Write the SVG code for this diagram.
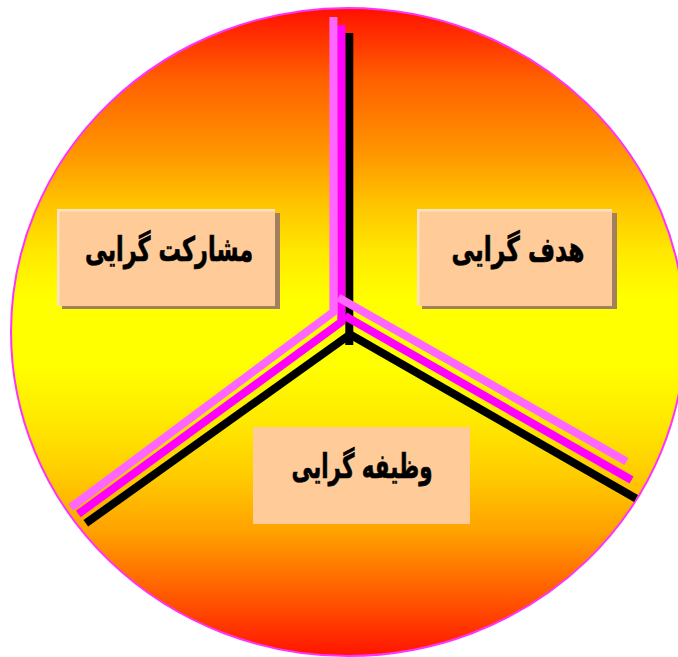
<svg xmlns="http://www.w3.org/2000/svg" width="678" height="657" viewBox="0 0 678 657">
  <defs>
    <linearGradient id="bg" x1="0" y1="0" x2="0" y2="1">
      <stop offset="0" stop-color="#FF1000"/>
      <stop offset="0.11" stop-color="#FF6000"/>
      <stop offset="0.22" stop-color="#FF9400"/>
      <stop offset="0.30" stop-color="#FFC200"/>
      <stop offset="0.38" stop-color="#FFEA00"/>
      <stop offset="0.45" stop-color="#FFFF00"/>
      <stop offset="0.55" stop-color="#FFFF00"/>
      <stop offset="0.64" stop-color="#FFE800"/>
      <stop offset="0.72" stop-color="#FFCC00"/>
      <stop offset="0.81" stop-color="#FFA000"/>
      <stop offset="0.87" stop-color="#FF7400"/>
      <stop offset="0.92" stop-color="#FF5000"/>
      <stop offset="1" stop-color="#FF1400"/>
    </linearGradient>
  </defs>
  <style>
    .shadow { fill: #A2805E; }
    .light { fill: #FFE2C2; }
    .box { fill: #FFCC99; }
    .label { font-family: "DejaVu Sans", "Noto Sans", sans-serif; font-weight: bold; font-size: 34px; fill: #000; stroke: #000; stroke-width: 0.7; text-anchor: middle; }
    .ln { fill: none; stroke-width: 8; stroke-linecap: butt; stroke-linejoin: miter; }
    .blk { stroke: #000000; }
    .mag { stroke: #FF00FF; }
    .pnk { stroke: #FF66FF; }
  </style>

  <ellipse id="disc" cx="348" cy="332" rx="337" ry="324" fill="url(#bg)" stroke="#FF33FF" stroke-width="2"/>

  <g id="connectors">
    <line class="ln blk" x1="349.3" y1="33" x2="349.3" y2="345"/>
    <line class="ln blk" x1="349.3" y1="335" x2="85.8" y2="523.3"/>
    <line class="ln blk" x1="349.3" y1="334" x2="636" y2="498.5"/>
    <path class="ln mag" d="M341.3,25 V322 L78.3,514"/>
    <line class="ln mag" x1="345" y1="316" x2="631.5" y2="480"/>
    <path class="ln pnk" d="M333.4,17 V312 L70.7,507.5"/>
    <line class="ln pnk" x1="338.3" y1="297.5" x2="626.5" y2="461.5"/>
  </g>

  <g id="node-participation">
    <rect class="shadow" x="62" y="213" width="218" height="96"/>
    <rect class="light" x="57" y="209" width="218" height="97"/>
    <rect class="box" x="59.5" y="211.5" width="215.5" height="94.5"/>
    <text class="label" x="169" y="261" textLength="168" lengthAdjust="spacingAndGlyphs">مشارکت گرایی</text>
  </g>

  <g id="node-goal">
    <rect class="shadow" x="422" y="213" width="195" height="96"/>
    <rect class="light" x="417" y="209" width="195" height="97"/>
    <rect class="box" x="419.5" y="211.5" width="192.5" height="94.5"/>
    <text class="label" x="518" y="261" textLength="133" lengthAdjust="spacingAndGlyphs">هدف گرایی</text>
  </g>

  <g id="node-duty">
    <rect class="box" x="253" y="427" width="217" height="97"/>
    <text class="label" x="362" y="478" textLength="141" lengthAdjust="spacingAndGlyphs">وظیفه گرایی</text>
  </g>
</svg>
